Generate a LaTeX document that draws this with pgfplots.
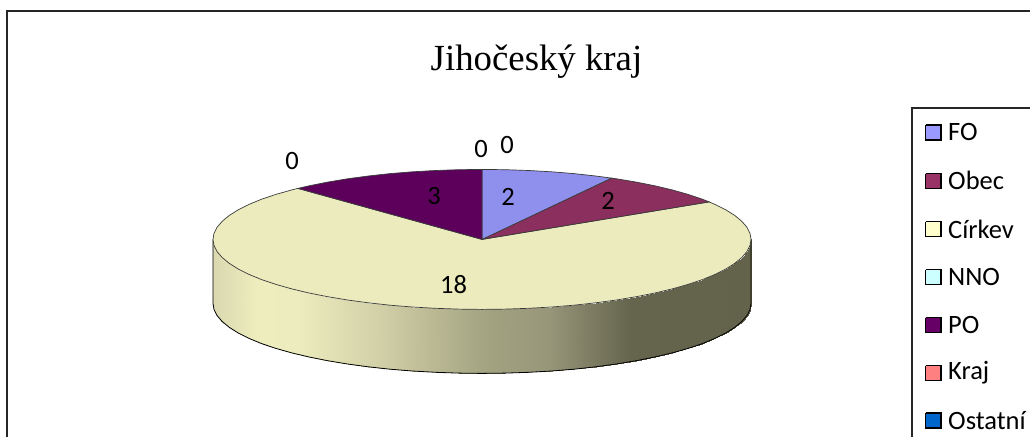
\documentclass[border=0pt]{standalone}
\usepackage{fontspec}
\setmainfont{Carlito}
\newfontfamily\titlefont{Liberation Serif}
\usepackage{pgfplots}
\pgfplotsset{compat=1.18}
\definecolor{cfo}{HTML}{8F8FEE}
\definecolor{cobec}{HTML}{8A2F5E}
\definecolor{ccirkev}{HTML}{EBEBBE}
\definecolor{cpo}{HTML}{5C005C}
\definecolor{edgeg}{HTML}{3A3A3A}
\tikzset{
  lbl/.style={font=\fontsize{26.5}{28}\selectfont,text=black,inner sep=0pt},
  leg/.style={font=\fontsize{26.5}{28}\selectfont,text=black,inner sep=0pt,anchor=west},
  sq/.style={draw=black,line width=1.3pt,mark=none},
}
\begin{document}
\begin{tikzpicture}
\begin{axis}[
  width=1030pt,height=437pt,scale only axis,
  xmin=0,xmax=1030,ymin=0,ymax=437,y dir=reverse,
  hide axis,clip=true,
  colormap={side}{rgb255(213)=(217,216,176); rgb255(257)=(237,237,190); rgb255(297)=(236,236,190); rgb255(377)=(210,209,168); rgb255(490)=(162,161,128); rgb255(547)=(152,151,122); rgb255(630)=(101,101,78); rgb255(751)=(99,99,75)},
  point meta min=213,point meta max=751,
]
% page ground
\addplot[draw=none,fill=white] coordinates {(0,0)(1030,0)(1030,437)(0,437)};
% frames
\addplot[draw=black!85,line width=2pt] coordinates {(6.5,437)(6.5,11)(1030,11)};
\addplot[draw=black!85,line width=2pt] coordinates {(912,437)(912,108)(1030,108)};
% side of the disc
\addplot[patch,patch type=rectangle,mesh input=lattice,mesh/cols=37,shader=interp,point meta=x] coordinates {
(751.0,239.4)(750.0,245.5)(746.9,251.6)(741.8,257.5)(734.8,263.3)(725.8,269.0)(715.0,274.4)(702.4,279.6)(688.1,284.4)(672.2,288.9)(654.9,293.0)(636.3,296.7)(616.5,300.0)(595.7,302.8)(574.0,305.2)(551.6,307.0)(528.7,308.3)(505.4,309.1)(482.0,309.4)(458.6,309.1)(435.3,308.3)(412.4,307.0)(390.0,305.2)(368.3,302.8)(347.5,300.0)(327.7,296.7)(309.1,293.0)(291.8,288.9)(275.9,284.4)(261.6,279.6)(249.0,274.4)(238.2,269.0)(229.2,263.3)(222.2,257.5)(217.1,251.6)(214.0,245.5)(213.0,239.4)
(751.0,303.4)(750.0,309.5)(746.9,315.6)(741.8,321.5)(734.8,327.3)(725.8,333.0)(715.0,338.4)(702.4,343.6)(688.1,348.4)(672.2,352.9)(654.9,357.0)(636.3,360.7)(616.5,364.0)(595.7,366.8)(574.0,369.2)(551.6,371.0)(528.7,372.3)(505.4,373.1)(482.0,373.4)(458.6,373.1)(435.3,372.3)(412.4,371.0)(390.0,369.2)(368.3,366.8)(347.5,364.0)(327.7,360.7)(309.1,357.0)(291.8,352.9)(275.9,348.4)(261.6,343.6)(249.0,338.4)(238.2,333.0)(229.2,327.3)(222.2,321.5)(217.1,315.6)(214.0,309.5)(213.0,303.4)
};
% side outline
\addplot[draw=black,line width=0.8pt] coordinates {
(213.0,239.4)(213.0,303.4)(214.0,309.5)(217.1,315.6)(222.2,321.5)(229.2,327.3)(238.2,333.0)(249.0,338.4)(261.6,343.6)(275.9,348.4)(291.8,352.9)(309.1,357.0)(327.7,360.7)(347.5,364.0)(368.3,366.8)(390.0,369.2)(412.4,371.0)(435.3,372.3)(458.6,373.1)(482.0,373.4)(505.4,373.1)(528.7,372.3)(551.6,371.0)(574.0,369.2)(595.7,366.8)(616.5,364.0)(636.3,360.7)(654.9,357.0)(672.2,352.9)(688.1,348.4)(702.4,343.6)(715.0,338.4)(725.8,333.0)(734.8,327.3)(741.8,321.5)(746.9,315.6)(750.0,309.5)(751.0,303.4)(751.0,239.4)
};
% Cirkev (18)
\addplot[fill=ccirkev,draw=edgeg,line width=0.7pt] coordinates {
(482,239.4)(709.1,201.9)(715.0,204.4)(725.8,209.8)(734.8,215.5)(741.8,221.3)(746.9,227.2)(750.0,233.3)(751.0,239.4)(750.0,245.5)(746.9,251.6)(741.8,257.5)(734.8,263.3)(725.8,269.0)(715.0,274.4)(702.4,279.6)(688.1,284.4)(672.2,288.9)(654.9,293.0)(636.3,296.7)(616.5,300.0)(595.7,302.8)(574.0,305.2)(551.6,307.0)(528.7,308.3)(505.4,309.1)(482.0,309.4)(458.6,309.1)(435.3,308.3)(412.4,307.0)(390.0,305.2)(368.3,302.8)(347.5,300.0)(327.7,296.7)(309.1,293.0)(291.8,288.9)(275.9,284.4)(261.6,279.6)(249.0,274.4)(238.2,269.0)(229.2,263.3)(222.2,257.5)(217.1,251.6)(214.0,245.5)(213.0,239.4)(214.0,233.3)(217.1,227.2)(222.2,221.3)(229.2,215.5)(238.2,209.8)(249.0,204.4)(261.6,199.2)(275.9,194.4)(291.8,189.9)(297.9,188.4)(482,239.4)
};
% Obec (2)
\addplot[fill=cobec,draw=edgeg,line width=0.7pt] coordinates {
(482,239.4)(611.6,178.1)(616.5,178.8)(636.3,182.1)(654.9,185.8)(672.2,189.9)(688.1,194.4)(702.4,199.2)(709.1,201.9)(482,239.4)
};
% FO (2)
\addplot[fill=cfo,draw=edgeg,line width=0.7pt] coordinates {
(482,239.4)(482,169.4)(505.4,169.7)(528.7,170.5)(551.6,171.8)(574.0,173.6)(595.7,176.0)(611.6,178.1)(482,239.4)
};
% PO (3)
\addplot[fill=cpo,draw=edgeg,line width=0.7pt] coordinates {
(482,239.4)(297.9,188.4)(309.1,185.8)(327.7,182.1)(347.5,178.8)(368.3,176.0)(390.0,173.6)(412.4,171.8)(435.3,170.5)(458.6,169.7)(482,169.4)(482,239.4)
};
% legend keys
\addplot[sq,fill={rgb,255:red,153;green,153;blue,255}] coordinates {(925.5,125)(941,125)(941,140)(925.5,140)(925.5,125)};
\addplot[sq,fill={rgb,255:red,153;green,51;blue,102}] coordinates {(925.5,173.5)(941,173.5)(941,188.5)(925.5,188.5)(925.5,173.5)};
\addplot[sq,fill={rgb,255:red,255;green,255;blue,204}] coordinates {(925.5,221.5)(941,221.5)(941,236.5)(925.5,236.5)(925.5,221.5)};
\addplot[sq,fill={rgb,255:red,204;green,255;blue,255}] coordinates {(925.5,269.5)(941,269.5)(941,284.5)(925.5,284.5)(925.5,269.5)};
\addplot[sq,fill={rgb,255:red,102;green,0;blue,102}] coordinates {(925.5,317.5)(941,317.5)(941,332.5)(925.5,332.5)(925.5,317.5)};
\addplot[sq,fill={rgb,255:red,255;green,128;blue,128}] coordinates {(925.5,365.5)(941,365.5)(941,380.5)(925.5,380.5)(925.5,365.5)};
\addplot[sq,fill={rgb,255:red,0;green,102;blue,204}] coordinates {(925.5,413)(941,413)(941,428)(925.5,428)(925.5,413)};
% text
\node[font=\titlefont\fontsize{36.8}{40}\selectfont,inner sep=0pt] at (axis cs:536.5,62) {Jihočeský kraj};
\node[lbl] at (axis cs:292,161) {0};
\node[lbl] at (axis cs:481,149) {0};
\node[lbl] at (axis cs:507,145) {0};
\node[lbl] at (axis cs:434,196) {3};
\node[lbl] at (axis cs:508,197) {2};
\node[lbl] at (axis cs:608,201) {2};
\node[lbl] at (axis cs:453.5,285) {18};
\node[leg] at (axis cs:948,132) {FO};
\node[leg] at (axis cs:948,180) {Obec};
\node[leg] at (axis cs:948,229) {Církev};
\node[leg] at (axis cs:948,277) {NNO};
\node[leg] at (axis cs:948,325) {PO};
\node[leg] at (axis cs:948,373) {Kraj};
\node[leg] at (axis cs:948,421) {Ostatní};
\end{axis}
\end{tikzpicture}
\end{document}
